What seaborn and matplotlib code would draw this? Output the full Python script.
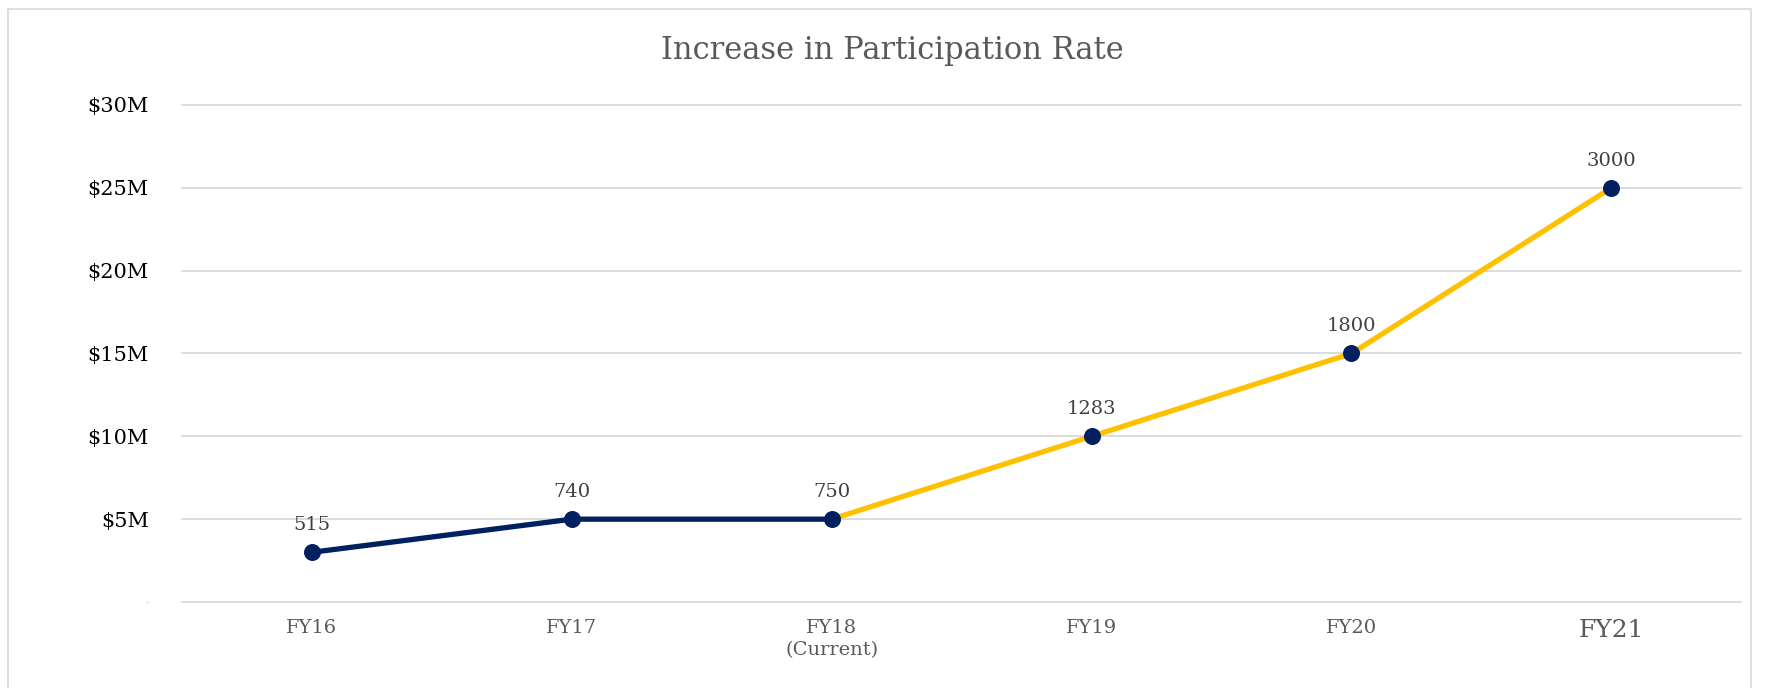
import matplotlib
matplotlib.use("Agg")
import matplotlib.pyplot as plt
from matplotlib.patches import Rectangle
import seaborn as sns
import numpy as np
import pandas as pd

# chart data
years = ["FY16", "FY17", "FY18", "FY19", "FY20", "FY21"]
year_labels = ["FY16", "FY17", "FY18\n(Current)", "FY19", "FY20", "FY21"]
funding_m = [3, 5, 5, 10, 15, 25]            # $M
participants = [515, 740, 750, 1283, 1800, 3000]
y_ticks = [0, 5, 10, 15, 20, 25, 30]
y_tick_labels = ["-", "$5M", "$10M", "$15M", "$20M", "$25M", "$30M"]
current_idx = 2  # FY18 is the current year

NAVY = "#002060"
GOLD = "#FFC000"
GRID = "#d9d9d9"

sns.set_theme(style="white")
plt.rcParams["font.family"] = ["DejaVu Serif", "DejaVu Sans"]

df = pd.DataFrame({
    "pos": np.arange(len(years)),
    "year": years,
    "funding": funding_m,
    "participants": participants,
})
actual = df.iloc[:current_idx + 1]
projected = df.iloc[current_idx:]

fig = plt.figure(figsize=(17.7, 6.88), dpi=100)
ax = fig.add_axes([0.1028, 0.125, 0.881, 0.7224])

sns.lineplot(data=actual, x="pos", y="funding", color=NAVY, linewidth=3.8, ax=ax, zorder=3)
sns.lineplot(data=projected, x="pos", y="funding", color=GOLD, linewidth=3.8, ax=ax, zorder=3)
sns.scatterplot(data=df, x="pos", y="funding", color=NAVY, s=150, edgecolor=NAVY,
                linewidth=0, ax=ax, zorder=4)

for _, row in df.iterrows():
    ax.annotate(f"{row['participants']}", (row["pos"], row["funding"]),
                xytext=(0, 13), textcoords="offset points",
                ha="center", va="bottom", fontsize=14, color="#404040")

ax.set_xlim(-0.5, len(years) - 0.5)
ax.set_ylim(0, 30)
ax.set_yticks(y_ticks)
ax.set_yticklabels(y_tick_labels, fontsize=15, color="black")
ax.set_xticks(df["pos"])
ax.set_xticklabels(year_labels, fontsize=14, color="#595959", linespacing=1.35)
ax.get_xticklabels()[-1].set_fontsize(18)
ax.get_yticklabels()[0].set_fontsize(6)
ax.get_yticklabels()[0].set_color("#a6a6a6")
ax.tick_params(axis="y", length=0, pad=24)
ax.tick_params(axis="x", length=0, pad=12)
ax.set_xlabel("")
ax.set_ylabel("")

ax.yaxis.grid(True, color=GRID, linewidth=1.3)
ax.xaxis.grid(False)
ax.set_axisbelow(True)
for gl in ax.get_ygridlines():
    gl.set_clip_on(False)
sns.despine(ax=ax, left=True, bottom=True)

fig.text(892 / 1770, 1 - 51 / 688, "Increase in Participation Rate", fontsize=22,
         color="#595959", ha="center", va="center")

# light outer frame like the original chart area
fig.patches.append(Rectangle((8 / 1770, -0.01), 1743 / 1770, 1 - 9 / 688 + 0.01,
                             transform=fig.transFigure, fill=False,
                             edgecolor=GRID, linewidth=1.2))

fig.savefig("out.png", dpi=100)
